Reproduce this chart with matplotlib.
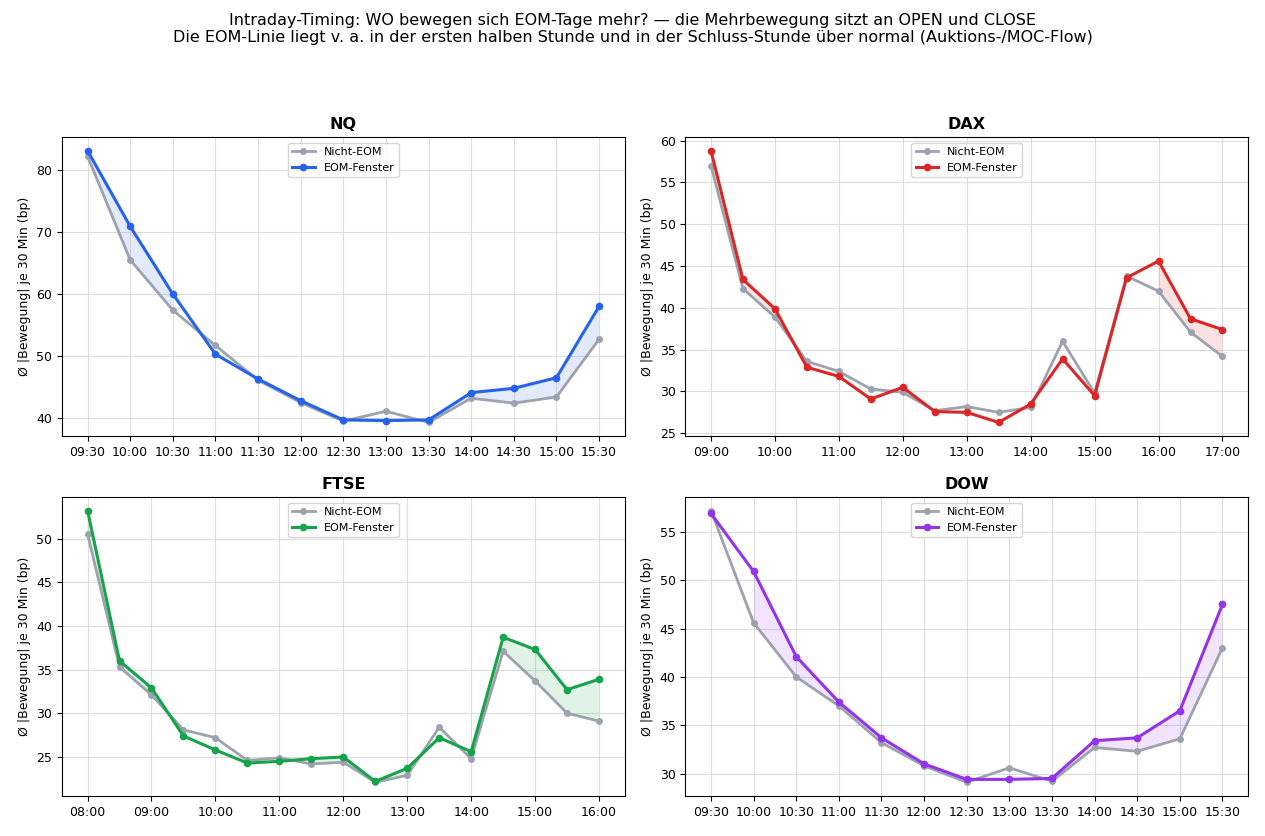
import matplotlib
matplotlib.use("Agg")
import matplotlib.pyplot as plt
import numpy as np

# ---- data ----
nq_times = ["09:30", "10:00", "10:30", "11:00", "11:30", "12:00", "12:30",
            "13:00", "13:30", "14:00", "14:30", "15:00", "15:30"]
nq_non = [82.2, 65.5, 57.4, 51.7, 46.1, 42.5, 39.5, 41.1, 39.3, 43.2, 42.4, 43.4, 52.7]
nq_eom = [83.1, 70.9, 60.0, 50.3, 46.3, 42.8, 39.7, 39.6, 39.7, 44.1, 44.8, 46.5, 58.0]

dax_times = ["09:00", "09:30", "10:00", "10:30", "11:00", "11:30", "12:00", "12:30",
             "13:00", "13:30", "14:00", "14:30", "15:00", "15:30", "16:00", "16:30", "17:00"]
dax_non = [57.0, 42.3, 38.9, 33.6, 32.4, 30.3, 29.9, 27.7, 28.2, 27.5, 28.1, 36.0, 29.8, 43.8, 42.0, 37.1, 34.2]
dax_eom = [58.8, 43.4, 39.9, 32.9, 31.8, 29.1, 30.5, 27.6, 27.5, 26.3, 28.5, 33.9, 29.5, 43.6, 45.6, 38.7, 37.4]

ftse_times = ["08:00", "08:30", "09:00", "09:30", "10:00", "10:30", "11:00", "11:30",
              "12:00", "12:30", "13:00", "13:30", "14:00", "14:30", "15:00", "15:30", "16:00"]
ftse_non = [50.5, 35.3, 32.1, 28.1, 27.2, 24.6, 24.9, 24.2, 24.4, 22.1, 22.9, 28.4, 24.8, 37.1, 33.7, 30.0, 29.1]
ftse_eom = [53.2, 36.0, 32.9, 27.4, 25.8, 24.3, 24.5, 24.8, 25.0, 22.2, 23.7, 27.2, 25.6, 38.7, 37.3, 32.7, 33.9]

dow_times = ["09:30", "10:00", "10:30", "11:00", "11:30", "12:00", "12:30",
             "13:00", "13:30", "14:00", "14:30", "15:00", "15:30"]
dow_non = [57.2, 45.6, 40.0, 37.0, 33.2, 30.8, 29.1, 30.6, 29.2, 32.7, 32.3, 33.6, 43.0]
dow_eom = [56.9, 50.9, 42.1, 37.4, 33.7, 31.0, 29.4, 29.4, 29.5, 33.4, 33.7, 36.5, 47.5]

panels = [
    ("NQ", nq_times, nq_non, nq_eom, "#2563eb", 1),
    ("DAX", dax_times, dax_non, dax_eom, "#dc2626", 2),
    ("FTSE", ftse_times, ftse_non, ftse_eom, "#16a34a", 2),
    ("DOW", dow_times, dow_non, dow_eom, "#9333ea", 1),
]

fig, axes = plt.subplots(2, 2, figsize=(12.65, 8.36), dpi=100)
fig.subplots_adjust(left=0.049, right=0.9866, top=0.836, bottom=0.048,
                    wspace=0.108, hspace=0.204)

for ax, (name, times, non, eom, col, step) in zip(axes.flat, panels):
    x = np.arange(len(times))
    non = np.array(non)
    eom = np.array(eom)
    ax.plot(x, non, color="#9ca3af", lw=2, marker="o", ms=4, label="Nicht-EOM")
    ax.plot(x, eom, color=col, lw=2.2, marker="o", ms=4.5, label="EOM-Fenster")
    ax.fill_between(x, non, eom, where=eom > non, color=col, alpha=0.13, lw=0)
    ax.set_xticks(x[::step])
    ax.set_xticklabels(times[::step], fontsize=9)
    ax.tick_params(axis="y", labelsize=9)
    ax.set_title(name, fontsize=11.5, fontweight="bold")
    ax.set_ylabel("Ø |Bewegung| je 30 Min (bp)", fontsize=9)
    ax.grid(True, color="#dddddd", lw=0.8)
    ax.set_axisbelow(True)
    ax.legend(loc="upper center", fontsize=8)

fig.suptitle("Intraday-Timing: WO bewegen sich EOM-Tage mehr? — die Mehrbewegung sitzt an OPEN und CLOSE\n"
             "Die EOM-Linie liegt v. a. in der ersten halben Stunde und in der Schluss-Stunde über normal (Auktions-/MOC-Flow)",
             fontsize=11.5, y=0.985)

fig.savefig("out.png", dpi=100)
